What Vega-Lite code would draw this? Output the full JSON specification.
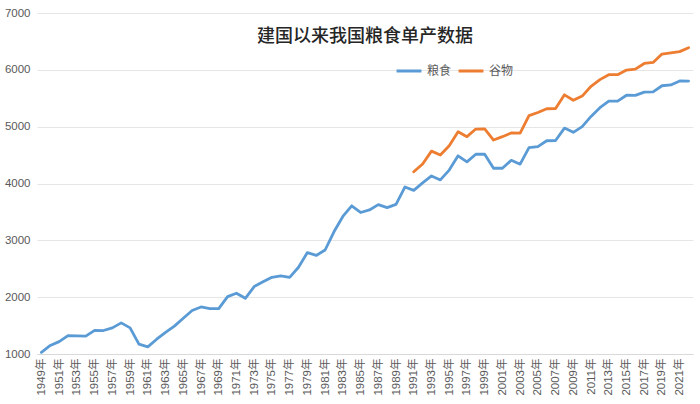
{
  "$schema": "https://vega.github.io/schema/vega-lite/v6.json",
  "autosize": {"type": "fit", "contains": "padding"},
  "width": 700,
  "height": 404,
  "padding": {"left": 4, "top": 7, "right": 7, "bottom": 8},
  "background": "white",
  "title": {
    "text": "建国以来我国粮食单产数据",
    "font": "Noto Sans CJK SC",
    "fontSize": 18,
    "fontWeight": 500,
    "color": "#262626",
    "anchor": "middle",
    "frame": "group",
    "offset": -57,
    "baseline": "bottom"
  },
  "config": {
    "view": {"stroke": null},
    "font": "Liberation Sans"
  },
  "data": {
    "values": [
      {"year": "1949年", "type": "粮食", "value": 1029},
      {"year": "1950年", "type": "粮食", "value": 1150},
      {"year": "1951年", "type": "粮食", "value": 1218},
      {"year": "1952年", "type": "粮食", "value": 1322},
      {"year": "1953年", "type": "粮食", "value": 1320},
      {"year": "1954年", "type": "粮食", "value": 1315},
      {"year": "1955年", "type": "粮食", "value": 1415},
      {"year": "1956年", "type": "粮食", "value": 1413},
      {"year": "1957年", "type": "粮食", "value": 1460},
      {"year": "1958年", "type": "粮食", "value": 1548},
      {"year": "1959年", "type": "粮食", "value": 1460},
      {"year": "1960年", "type": "粮食", "value": 1175},
      {"year": "1961年", "type": "粮食", "value": 1125},
      {"year": "1962年", "type": "粮食", "value": 1260},
      {"year": "1963年", "type": "粮食", "value": 1380},
      {"year": "1964年", "type": "粮食", "value": 1490},
      {"year": "1965年", "type": "粮食", "value": 1630},
      {"year": "1966年", "type": "粮食", "value": 1765},
      {"year": "1967年", "type": "粮食", "value": 1828},
      {"year": "1968年", "type": "粮食", "value": 1800},
      {"year": "1969年", "type": "粮食", "value": 1798},
      {"year": "1970年", "type": "粮食", "value": 2010},
      {"year": "1971年", "type": "粮食", "value": 2070},
      {"year": "1972年", "type": "粮食", "value": 1980},
      {"year": "1973年", "type": "粮食", "value": 2186},
      {"year": "1974年", "type": "粮食", "value": 2270},
      {"year": "1975年", "type": "粮食", "value": 2350},
      {"year": "1976年", "type": "粮食", "value": 2375},
      {"year": "1977年", "type": "粮食", "value": 2348},
      {"year": "1978年", "type": "粮食", "value": 2527},
      {"year": "1979年", "type": "粮食", "value": 2785},
      {"year": "1980年", "type": "粮食", "value": 2734},
      {"year": "1981年", "type": "粮食", "value": 2830},
      {"year": "1982年", "type": "粮食", "value": 3150},
      {"year": "1983年", "type": "粮食", "value": 3420},
      {"year": "1984年", "type": "粮食", "value": 3608},
      {"year": "1985年", "type": "粮食", "value": 3490},
      {"year": "1986年", "type": "粮食", "value": 3535},
      {"year": "1987年", "type": "粮食", "value": 3628},
      {"year": "1988年", "type": "粮食", "value": 3575},
      {"year": "1989年", "type": "粮食", "value": 3632},
      {"year": "1990年", "type": "粮食", "value": 3938},
      {"year": "1991年", "type": "粮食", "value": 3879},
      {"year": "1992年", "type": "粮食", "value": 4010},
      {"year": "1993年", "type": "粮食", "value": 4133},
      {"year": "1994年", "type": "粮食", "value": 4063},
      {"year": "1995年", "type": "粮食", "value": 4236},
      {"year": "1996年", "type": "粮食", "value": 4487},
      {"year": "1997年", "type": "粮食", "value": 4380},
      {"year": "1998年", "type": "粮食", "value": 4515},
      {"year": "1999年", "type": "粮食", "value": 4515},
      {"year": "2000年", "type": "粮食", "value": 4268},
      {"year": "2001年", "type": "粮食", "value": 4268},
      {"year": "2002年", "type": "粮食", "value": 4408},
      {"year": "2003年", "type": "粮食", "value": 4340},
      {"year": "2004年", "type": "粮食", "value": 4630},
      {"year": "2005年", "type": "粮食", "value": 4650},
      {"year": "2006年", "type": "粮食", "value": 4752},
      {"year": "2007年", "type": "粮食", "value": 4756},
      {"year": "2008年", "type": "粮食", "value": 4975},
      {"year": "2009年", "type": "粮食", "value": 4900},
      {"year": "2010年", "type": "粮食", "value": 5000},
      {"year": "2011年", "type": "粮食", "value": 5180},
      {"year": "2012年", "type": "粮食", "value": 5333},
      {"year": "2013年", "type": "粮食", "value": 5448},
      {"year": "2014年", "type": "粮食", "value": 5450},
      {"year": "2015年", "type": "粮食", "value": 5553},
      {"year": "2016年", "type": "粮食", "value": 5550},
      {"year": "2017年", "type": "粮食", "value": 5608},
      {"year": "2018年", "type": "粮食", "value": 5612},
      {"year": "2019年", "type": "粮食", "value": 5720},
      {"year": "2020年", "type": "粮食", "value": 5734},
      {"year": "2021年", "type": "粮食", "value": 5805},
      {"year": "2022年", "type": "粮食", "value": 5802},
      {"year": "1991年", "type": "谷物", "value": 4206},
      {"year": "1992年", "type": "谷物", "value": 4342},
      {"year": "1993年", "type": "谷物", "value": 4570},
      {"year": "1994年", "type": "谷物", "value": 4500},
      {"year": "1995年", "type": "谷物", "value": 4664},
      {"year": "1996年", "type": "谷物", "value": 4910},
      {"year": "1997年", "type": "谷物", "value": 4824},
      {"year": "1998年", "type": "谷物", "value": 4958},
      {"year": "1999年", "type": "谷物", "value": 4960},
      {"year": "2000年", "type": "谷物", "value": 4765},
      {"year": "2001年", "type": "谷物", "value": 4824},
      {"year": "2002年", "type": "谷物", "value": 4890},
      {"year": "2003年", "type": "谷物", "value": 4885},
      {"year": "2004年", "type": "谷物", "value": 5195},
      {"year": "2005年", "type": "谷物", "value": 5250},
      {"year": "2006年", "type": "谷物", "value": 5315},
      {"year": "2007年", "type": "谷物", "value": 5318},
      {"year": "2008年", "type": "谷物", "value": 5560},
      {"year": "2009年", "type": "谷物", "value": 5464},
      {"year": "2010年", "type": "谷物", "value": 5538},
      {"year": "2011年", "type": "谷物", "value": 5710},
      {"year": "2012年", "type": "谷物", "value": 5828},
      {"year": "2013年", "type": "谷物", "value": 5915},
      {"year": "2014年", "type": "谷物", "value": 5915},
      {"year": "2015年", "type": "谷物", "value": 5995},
      {"year": "2016年", "type": "谷物", "value": 6012},
      {"year": "2017年", "type": "谷物", "value": 6112},
      {"year": "2018年", "type": "谷物", "value": 6130},
      {"year": "2019年", "type": "谷物", "value": 6278},
      {"year": "2020年", "type": "谷物", "value": 6300},
      {"year": "2021年", "type": "谷物", "value": 6320},
      {"year": "2022年", "type": "谷物", "value": 6390}
    ]
  },
  "mark": {"type": "line", "strokeWidth": 2.8, "strokeJoin": "round", "strokeCap": "round"},
  "encoding": {
    "x": {
      "field": "year",
      "type": "ordinal",
      "scale": {"type": "point", "padding": 0.5},
      "axis": {
        "title": null,
        "values": ["1949年","1951年","1953年","1955年","1957年","1959年","1961年","1963年","1965年","1967年","1969年","1971年","1973年","1975年","1977年","1979年","1981年","1983年","1985年","1987年","1989年","1991年","1993年","1995年","1997年","1999年","2001年","2003年","2005年","2007年","2009年","2011年","2013年","2015年","2017年","2019年","2021年"],
        "labelAngle": -90,
        "labelAlign": "right",
        "labelBaseline": "middle",
        "labelFont": "Liberation Sans, Noto Sans CJK SC",
        "labelFontSize": 11.5,
        "labelColor": "#595959",
        "labelPadding": 4,
        "ticks": false,
        "domain": true,
        "domainColor": "#d9d9d9",
        "domainWidth": 1,
        "grid": false
      }
    },
    "y": {
      "field": "value",
      "type": "quantitative",
      "scale": {"domain": [1000, 7000], "nice": false, "zero": false},
      "axis": {
        "title": null,
        "format": "d",
        "values": [1000, 2000, 3000, 4000, 5000, 6000, 7000],
        "labelFont": "Liberation Sans",
        "labelFontSize": 11.5,
        "labelColor": "#595959",
        "labelPadding": 7,
        "ticks": false,
        "domain": false,
        "grid": true,
        "gridColor": "#e6e6e6",
        "gridWidth": 1
      }
    },
    "color": {
      "field": "type",
      "type": "nominal",
      "scale": {"domain": ["粮食", "谷物"], "range": ["#5B9BD5", "#ED7D31"]},
      "legend": {
        "title": null,
        "orient": "none",
        "direction": "horizontal",
        "legendX": 358,
        "legendY": 44,
        "symbolType": "stroke",
        "symbolStrokeWidth": 3,
        "symbolSize": 620,
        "labelFont": "Noto Sans CJK SC",
        "labelFontSize": 12,
        "labelColor": "#595959",
        "labelOffset": 4,
        "columnPadding": 0
      }
    }
  }
}
